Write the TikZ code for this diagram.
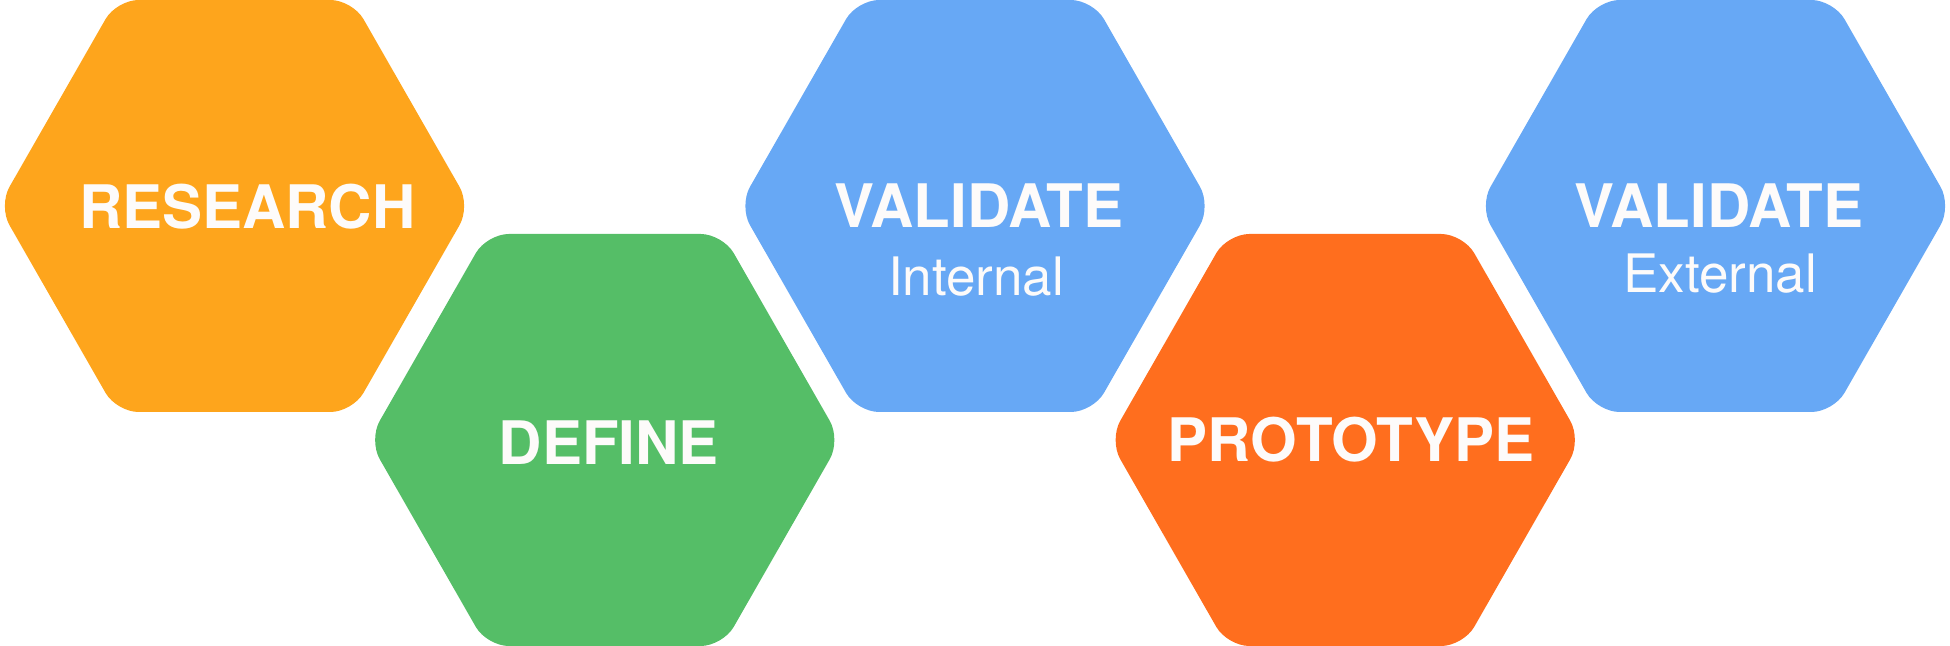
\documentclass[tikz,border=0pt]{standalone}
\usepackage{fontspec}
\setmainfont{TeX Gyre Heros}
\definecolor{hexorange}{HTML}{FEA51C}
\definecolor{hexgreen}{HTML}{55BE67}
\definecolor{hexblue}{HTML}{67A8F5}
\definecolor{hexred}{HTML}{FF6E1E}
\definecolor{txt}{HTML}{FDFBFA}
\begin{document}
\begin{tikzpicture}[x=0.5pt,y=-0.5pt]
\tikzset{
  hexa/.style={rounded corners=11pt},
  title/.style={text=txt, font=\bfseries\fontsize{30}{36}\selectfont, anchor=base, inner sep=0pt},
  sub/.style={text=txt, font=\fontsize{26.5}{32}\selectfont, anchor=base, inner sep=0pt}
}
\useasboundingbox (0,0) rectangle (1950,646);
% hexagons
\foreach \cx/\cy/\col/\nm in {234.5/206/hexorange/h1, 604.75/440/hexgreen/h2, 975/206/hexblue/h3, 1345.25/440/hexred/h4, 1715.5/206/hexblue/h5}{
  \fill[\col, hexa, shift={(\cx,\cy)}] (0,-206) -- (118,-206) -- (236,0) -- (118,206) -- (-118,206) -- (-236,0) -- (-118,-206) -- cycle;
  \coordinate (\nm) at (\cx,\cy);
}
% labels
\node[title] (t1) at (247.5,229) {RESEARCH};
\node[title] (t2) at (609,465) {DEFINE};
\node[title] (t3) at (979,228) {VALIDATE};
\node[sub]   (s3) at (976,296) {Internal};
\node[title] (t4) at (1351,462) {PROTOTYPE};
\node[title] (t5) at (1719,228) {VALIDATE};
\node[sub]   (s5) at (1720,293) {External};
\end{tikzpicture}
\end{document}
